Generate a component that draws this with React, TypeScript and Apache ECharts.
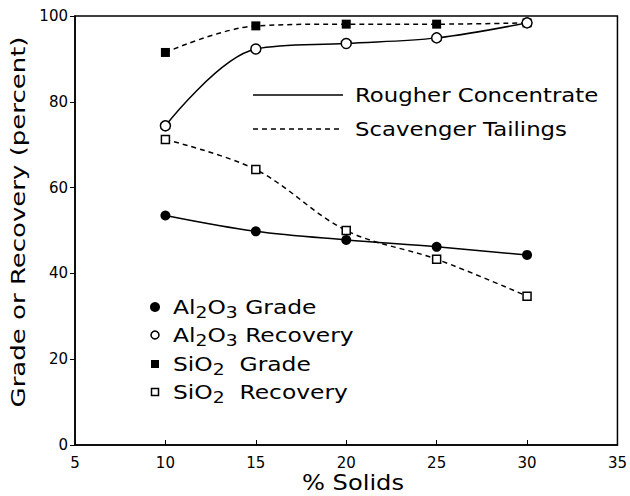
import React, { useEffect, useRef } from "react";
import * as echarts from "echarts";

const xValues = [10, 15, 20, 25, 30];
const al2o3Grade = [53.5, 49.8, 47.8, 46.2, 44.3];
const al2o3Recovery = [74.4, 92.3, 93.6, 94.9, 98.4];
const sio2Grade = [91.5, 97.7, 98.1, 98.1, 98.4];
const sio2Recovery = [71.2, 64.2, 50.0, 43.3, 34.7];
const xTicks = [5, 10, 15, 20, 25, 30, 35];
const yTicks = [0, 20, 40, 60, 80, 100];

const FONT = "DejaVu Sans";

const pairs = (ys: number[]) => xValues.map((x, i) => [x, ys[i]]);

export default function App() {
  const ref = useRef<HTMLDivElement>(null);
  useEffect(() => {
    if (!ref.current) return;
    const chart = echarts.init(ref.current, undefined, { renderer: "svg" });
    const lineBase = {
      type: "line" as const,
      smooth: 0.35,
      color: "#000",
      lineStyle: { color: "#000", width: 1.5 },
      z: 3,
    };
    const rich = {
      n: { fontFamily: FONT, fontSize: 20, fill: "#000", color: "#000" },
      s: { fontFamily: FONT, fontSize: 16, fill: "#000", color: "#000", padding: [9, 0, 0, 0] },
    };
    const legendItems = [
      { y: 307, text: "{n|Al}{s|2}{n|O}{s|3}{n| Grade}", kind: "fc" },
      { y: 335, text: "{n|Al}{s|2}{n|O}{s|3}{n| Recovery}", kind: "oc" },
      { y: 364, text: "{n|SiO}{s|2}{n|  Grade}", kind: "fs" },
      { y: 392, text: "{n|SiO}{s|2}{n|  Recovery}", kind: "os" },
    ];
    const graphics: any[] = [
      { type: "line", shape: { x1: 253, y1: 95, x2: 343, y2: 95 }, style: { stroke: "#000", lineWidth: 1.5 } },
      { type: "line", shape: { x1: 253, y1: 129, x2: 343, y2: 129 }, style: { stroke: "#000", lineWidth: 1.5, lineDash: [5, 4] } },
      { type: "text", x: 355, y: 95, scaleX: 1.14, style: { text: "Rougher Concentrate", font: `20px ${FONT}`, fill: "#000", textVerticalAlign: "middle" } },
      { type: "text", x: 355, y: 129, scaleX: 1.14, style: { text: "Scavenger Tailings", font: `20px ${FONT}`, fill: "#000", textVerticalAlign: "middle" } },
      { type: "text", x: 18, y: 222, rotation: Math.PI / 2, scaleX: 1.3, style: { text: "Grade or Recovery (percent)", font: `20px ${FONT}`, fill: "#000", textAlign: "center", textVerticalAlign: "middle" } },
      { type: "text", x: 353, y: 483, scaleX: 1.15, style: { text: "% Solids", font: `21px ${FONT}`, fill: "#000", textAlign: "center", textVerticalAlign: "middle" } },
    ];
    legendItems.forEach((it) => {
      if (it.kind === "fc") graphics.push({ type: "circle", shape: { cx: 155, cy: it.y, r: 5 }, style: { fill: "#000" } });
      if (it.kind === "oc") graphics.push({ type: "circle", shape: { cx: 155, cy: it.y, r: 4 }, style: { fill: "#fff", stroke: "#000", lineWidth: 1.5 } });
      if (it.kind === "fs") graphics.push({ type: "rect", shape: { x: 151, y: it.y - 4, width: 8, height: 8 }, style: { fill: "#000" } });
      if (it.kind === "os") graphics.push({ type: "rect", shape: { x: 151.5, y: it.y - 3.5, width: 7, height: 7 }, style: { fill: "#fff", stroke: "#000", lineWidth: 1.5 } });
      graphics.push({ type: "text", x: 173, y: it.y - 12, scaleX: 1.17, style: { text: it.text, rich, fill: "#000" } });
    });
    chart.setOption({
      animation: false,
      backgroundColor: "#fff",
      grid: { left: 75, right: 10, top: 16, bottom: 51, show: true, borderColor: "#000", borderWidth: 1.5, backgroundColor: "transparent" },
      xAxis: {
        type: "value",
        min: 5,
        max: 35,
        interval: 5,
        axisLine: { show: true, lineStyle: { color: "#000", width: 1.5 } },
        axisTick: { show: true, inside: true, length: 5, lineStyle: { color: "#000" } },
        axisLabel: { fontFamily: FONT, fontSize: 15, color: "#000", margin: 10 },
        splitLine: { show: false },
      },
      yAxis: {
        type: "value",
        min: 0,
        max: 100,
        interval: 20,
        axisLine: { show: true, lineStyle: { color: "#000", width: 1.5 } },
        axisTick: { show: true, inside: false, length: 5, lineStyle: { color: "#000" } },
        axisLabel: { fontFamily: FONT, fontSize: 15, color: "#000", margin: 7 },
        splitLine: { show: false },
      },
      graphic: graphics,
      series: [
        { ...lineBase, name: "Al2O3 Grade", data: pairs(al2o3Grade), symbol: "circle", symbolSize: 10, itemStyle: { color: "#000" } },
        { ...lineBase, name: "Al2O3 Recovery", data: pairs(al2o3Recovery), symbol: "circle", symbolSize: 10, itemStyle: { color: "#fff", borderColor: "#000", borderWidth: 1.5 }, z: 4 },
        { ...lineBase, name: "SiO2 Grade", data: pairs(sio2Grade), symbol: "rect", symbolSize: 9, lineStyle: { color: "#000", width: 1.5, type: [5, 4] }, itemStyle: { color: "#000" } },
        { ...lineBase, name: "SiO2 Recovery", data: pairs(sio2Recovery), symbol: "rect", symbolSize: 8, lineStyle: { color: "#000", width: 1.5, type: [5, 4] }, itemStyle: { color: "#fff", borderColor: "#000", borderWidth: 1.5 } },
      ],
    });
    return () => chart.dispose();
  }, []);
  return <div ref={ref} style={{ position: "fixed", left: 0, top: 0, width: 630, height: 496, background: "#fff" }} />;
}
